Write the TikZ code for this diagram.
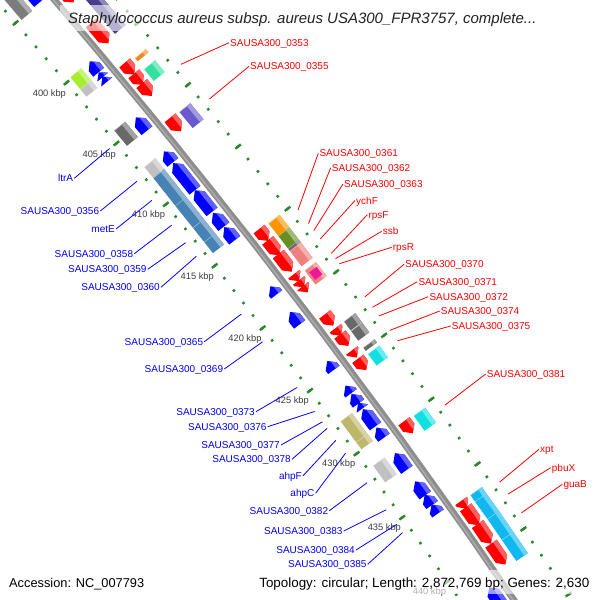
\documentclass[tikz,border=0pt]{standalone}
\usepackage{fontspec}
\setmainfont{Liberation Sans}

\definecolor{fwdred}{HTML}{FF0000}
\definecolor{revblue}{HTML}{0000FF}
\definecolor{tickgreen}{HTML}{2A8A2A}
\definecolor{spine}{HTML}{8E8E8E}
\definecolor{kbpgrey}{HTML}{3C3C3C}
\definecolor{titlegrey}{HTML}{222222}
\definecolor{darkslate}{HTML}{483D8B}
\definecolor{slatebox}{HTML}{6A5ACD}
\definecolor{mintbox}{HTML}{33E0A0}
\definecolor{amberbox}{HTML}{F08A1E}
\definecolor{orangebox}{HTML}{FF9400}
\definecolor{olivebox}{HTML}{6B8E23}
\definecolor{coralbox}{HTML}{F08080}
\definecolor{pinkbox}{HTML}{F0189A}
\definecolor{dimgreybox}{HTML}{696969}
\definecolor{midgreybox}{HTML}{7C7C7C}
\definecolor{lightgreybox}{HTML}{C0C0C0}
\definecolor{limebox}{HTML}{A8EC30}
\definecolor{steelbox}{HTML}{4682B4}
\definecolor{khakibox}{HTML}{BDB76B}
\definecolor{turqbox}{HTML}{10E0E0}
\definecolor{skybox}{HTML}{10B8F0}

% point on the map: position in kbp, offset from the backbone
\newcommand{\gp}[2]{({0.1305*(#1)-92.175}:{6937+(#2)})}

% forward gene, outer ring
\newcommand{\fwdgene}[2]{%
  \pgfmathsetmacro\gHead{min(0.44,(#2)-(#1))}%
  \pgfmathsetmacro\gBase{(#2)-\gHead}%
  \pgfmathsetmacro\gLite{(#2)-0.357*\gHead}%
  \fill[fwdred] \gp{#1}{6} -- \gp{\gBase}{6} -- \gp{#2}{13} -- \gp{\gBase}{20} -- \gp{#1}{20} -- cycle;
  \fill[fwdred!62!white] \gp{#1}{15.5} -- \gp{\gLite}{15.5} -- \gp{\gBase}{20} -- \gp{#1}{20} -- cycle;
}
% reverse gene, inner ring
\newcommand{\revgene}[2]{%
  \pgfmathsetmacro\gHead{min(0.44,(#2)-(#1))}%
  \pgfmathsetmacro\gBase{(#1)+\gHead}%
  \pgfmathsetmacro\gLite{(#1)+0.357*\gHead}%
  \fill[revblue] \gp{#2}{-20} -- \gp{\gBase}{-20} -- \gp{#1}{-13} -- \gp{\gBase}{-6} -- \gp{#2}{-6} -- cycle;
  \fill[revblue!62!white] \gp{#2}{-10.5} -- \gp{\gLite}{-10.5} -- \gp{\gBase}{-6} -- \gp{#2}{-6} -- cycle;
}
% COG box: start, end, lower offset, colour
\newcommand{\cogbox}[4]{%
  \fill[#4] \gp{#1}{#3} -- \gp{#2}{#3} -- \gp{#2}{#3+14} -- \gp{#1}{#3+14} -- cycle;
  \fill[#4!62!white] \gp{#1}{#3+9.5} -- \gp{#2}{#3+9.5} -- \gp{#2}{#3+14} -- \gp{#1}{#3+14} -- cycle;
  \draw[#4!55!white, line width=0.5pt] \gp{#1}{#3} -- \gp{#1}{#3+14};
}

\begin{document}
\begin{tikzpicture}[x=1pt, y=-1pt,
    gname/.style={font=\fontsize{10}{12}\selectfont, inner sep=1pt, text height=7.2pt, text depth=0pt},
    fwdlabel/.style={gname, text=fwdred, anchor=west},
    revlabel/.style={gname, text=revblue, anchor=east},
    fwdlead/.style={fwdred, line width=0.8pt},
    revlead/.style={revblue, line width=0.8pt},
    kbplabel/.style={font=\fontsize{9.3}{11}\selectfont, text=kbpgrey, inner sep=0pt, text height=6.7pt, text depth=0pt},
    tickmark/.style={tickgreen, line width=2.4pt},
    band/.style={fill=white, fill opacity=0.6},
    footer/.style={inner sep=0pt, text height=9.3pt, text depth=0pt}
  ]
  \path[use as bounding box] (0,0) rectangle (600,600);
  \clip (0,0) rectangle (600,600);
  \fill[white] (0,0) rectangle (600,600);

  \begin{scope}[shift={(-5215,4511)}]
    % Ticks
    \foreach \k in {393,...,445} {
      \draw[tickmark] \gp{\k}{-45.8} -- \gp{\k}{-43.2};
      \draw[tickmark] \gp{\k}{46.7} -- \gp{\k}{49.3};
    }
    \foreach \k in {395,400,...,445} {
      \draw[tickmark] \gp{\k}{-48} -- \gp{\k}{-41};
      \draw[tickmark] \gp{\k}{44.5} -- \gp{\k}{51.5};
    }
    \foreach \k in {400,405,...,440}
      \path \gp{\k-0.18}{-64.5} node[kbplabel] (kbp\k) {\k\ kbp};

    % Backbone
    \draw[spine, line width=6.5pt] plot[domain=392:446, samples=40] ({0.1305*\x-92.175}:{6937});
    \draw[spine!75!white, line width=1.6pt] plot[domain=392:446, samples=40] ({0.1305*\x-92.175}:{6936.2});

    % Genes
    \foreach \a/\b in {394.6/396.4, 398.1/399.8, 401.4/402.35, 402.3/403.2, 403.1/404.1,
        405.9/407.0, 414.9/415.85, 415.8/417.0, 416.9/418.3, 418.5/419.05, 419.0/419.55,
        419.45/419.95, 421.7/422.6, 422.8/423.4, 423.3/424.2, 424.55/425.1, 425.2/426.1,
        430.1/431.05, 436.3/436.9, 436.8/438.2, 438.1/439.6, 439.6/441.2}
      {\fwdgene{\a}{\b}}
    \foreach \a/\b in {393.2/395.0, 399.9/400.8, 400.8/401.2, 401.15/401.6, 404.5/405.6,
        407.3/408.2, 408.25/410.45, 410.45/412.2, 412.3/413.4, 413.45/414.5, 418.2/418.85,
        420.25/421.25, 424.15/424.85, 426.1/426.7, 426.75/427.5, 427.45/427.9, 427.95/429.3,
        429.4/430.2, 431.4/432.7, 433.6/434.7, 434.65/435.45, 435.4/436.1, 441.8/443.5}
      {\revgene{\a}{\b}}

    % COG boxes
    \cogbox{395.5}{399.6}{24}{darkslate}
    \cogbox{401.6}{401.85}{24}{amberbox}
    \cogbox{402.5}{403.45}{24}{mintbox}
    \cogbox{406.0}{407.3}{24}{slatebox}
    \cogbox{415.0}{416.0}{24}{orangebox}
    \cogbox{416.0}{417.0}{24}{olivebox}
    \cogbox{417.0}{417.2}{24}{dimgreybox}
    \cogbox{417.2}{418.4}{24}{coralbox}
    \cogbox{418.75}{419.85}{24}{coralbox}
    \fill[pinkbox] \gp{419.0}{26.5} -- \gp{419.6}{26.5} -- \gp{419.6}{35.5} -- \gp{419.0}{35.5} -- cycle;
    \cogbox{422.8}{423.5}{24}{dimgreybox}
    \cogbox{423.55}{424.3}{24}{dimgreybox}
    \cogbox{424.85}{425.1}{24}{dimgreybox}
    \cogbox{425.35}{426.25}{24}{turqbox}
    \cogbox{430.2}{431.35}{24}{turqbox}
    \foreach \a/\b in {436.35/436.85, 436.85/438.2, 438.2/439.8, 439.8/441.4}
      {\cogbox{\a}{\b}{24}{skybox}}
    \cogbox{393.3}{395.1}{-38}{midgreybox}
    \cogbox{399.9}{400.9}{-38}{limebox}
    \cogbox{400.9}{401.5}{-38}{lightgreybox}
    \cogbox{404.3}{405.55}{-38}{dimgreybox}
    \cogbox{407.3}{408.2}{-38}{lightgreybox}
    \foreach \a/\b in {408.2/410.45, 410.45/412.25, 412.25/413.4, 413.4/414.3}
      {\cogbox{\a}{\b}{-38}{steelbox}}
    \cogbox{427.75}{429.4}{-38}{khakibox}
    \cogbox{429.4}{429.95}{-38}{khakibox}
    \cogbox{431.25}{432.55}{-38}{lightgreybox}

    % Leader ends
    \foreach \n/\k in {0353/403.73, 0355/406.55, 0361/415.46, 0362/416.54, 0363/417.09,
        ychF/417.76, rpsF/418.9, ssb/419.32, rpsR/419.72, 0370/422.35, 0371/423.16,
        0372/423.84, 0374/424.97, 0375/425.78, 0381/430.8, xpt/436.73, pbuX/437.65, guaB/439.1}
      \path \gp{\k}{55.5} coordinate (e\n);
    \foreach \n/\k in {ltrA/404.98, 0356/407.7, metE/409.24, 0358/411.27, 0359/412.7,
        0360/413.8, 0365/418.47, 0369/420.7, 0373/424.35, 0376/426.25, 0377/427.08,
        0378/427.58, ahpF/428.53, ahpC/429.56, 0382/431.89, 0383/434.0, 0384/435.15, 0385/435.8}
      \path \gp{\k}{-53} coordinate (e\n);
  \end{scope}

  % Title and footer
  \fill[band] (60,5) rectangle (540,31);
  \fill[band] (0,570) rectangle (600,594);
  \node[anchor=west, inner sep=0pt, text height=10.7pt, text depth=0pt, text=titlegrey,
        font=\fontsize{15}{18}\selectfont\itshape] (title) at (68,18.3)
        {Staphylococcus aureus subsp. aureus USA300\_FPR3757, complete...};
  \node[footer, anchor=west, font=\fontsize{12.8}{15}\selectfont] (accession) at (9,582.5) {Accession: NC\_007793};
  \node[footer, anchor=east, font=\fontsize{13.4}{15}\selectfont] (topology) at (589.5,582.5) {Topology: circular; Length: 2,872,769 bp; Genes: 2,630};

  % Labels
  \foreach \n/\txt/\x/\y in {0353/SAUSA300\_0353/229/42.7, 0355/SAUSA300\_0355/249/66.3,
      0361/SAUSA300\_0361/318.3/153.3, 0362/SAUSA300\_0362/330.7/167.7,
      0363/SAUSA300\_0363/343/184, ychF/ychF/355/200.5, rpsF/rpsF/367.3/214.7,
      ssb/ssb/381.7/231.3, rpsR/rpsR/391.7/247.3, 0370/SAUSA300\_0370/404/264.3,
      0371/SAUSA300\_0371/417.3/281.7, 0372/SAUSA300\_0372/428.3/296.7,
      0374/SAUSA300\_0374/439.7/311, 0375/SAUSA300\_0375/450.7/326,
      0381/SAUSA300\_0381/485.7/374, xpt/xpt/539/449.3, pbuX/pbuX/550.7/467.7,
      guaB/guaB/562.3/484.3}
    \node[fwdlabel] (l\n) at (\x,\y) {\txt};
  \foreach \n/\txt/\x/\y in {ltrA/ltrA/74.3/178.3, 0356/SAUSA300\_0356/100.3/211,
      metE/metE/116/229, 0358/SAUSA300\_0358/134.3/253.7, 0359/SAUSA300\_0359/147.7/269.3,
      0360/SAUSA300\_0360/161/287.3, 0365/SAUSA300\_0365/204.3/341.7,
      0369/SAUSA300\_0369/224.3/369, 0373/SAUSA300\_0373/256/411.7,
      0376/SAUSA300\_0376/267.7/426.7, 0377/SAUSA300\_0377/281/445,
      0378/SAUSA300\_0378/292/459.3, ahpF/ahpF/303/475.8, ahpC/ahpC/315.6/493.3,
      0382/SAUSA300\_0382/329.3/510.7, 0383/SAUSA300\_0383/343.7/531,
      0384/SAUSA300\_0384/356/550, 0385/SAUSA300\_0385/367.7/564.3}
    \node[revlabel] (l\n) at (\x,\y) {\txt};

  % Leaders
  \foreach \n in {0353,0355,0361,0362,0363,ychF,rpsF,ssb,rpsR,0370,0371,0372,0374,0375,0381,xpt,pbuX,guaB}
    \draw[fwdlead] (l\n.west) -- (e\n);
  \foreach \n in {ltrA,0356,metE,0358,0359,0360,0365,0369,0373,0376,0377,0378,ahpF,ahpC,0382,0383,0384,0385}
    \draw[revlead] (l\n.east) -- (e\n);
\end{tikzpicture}
\end{document}
